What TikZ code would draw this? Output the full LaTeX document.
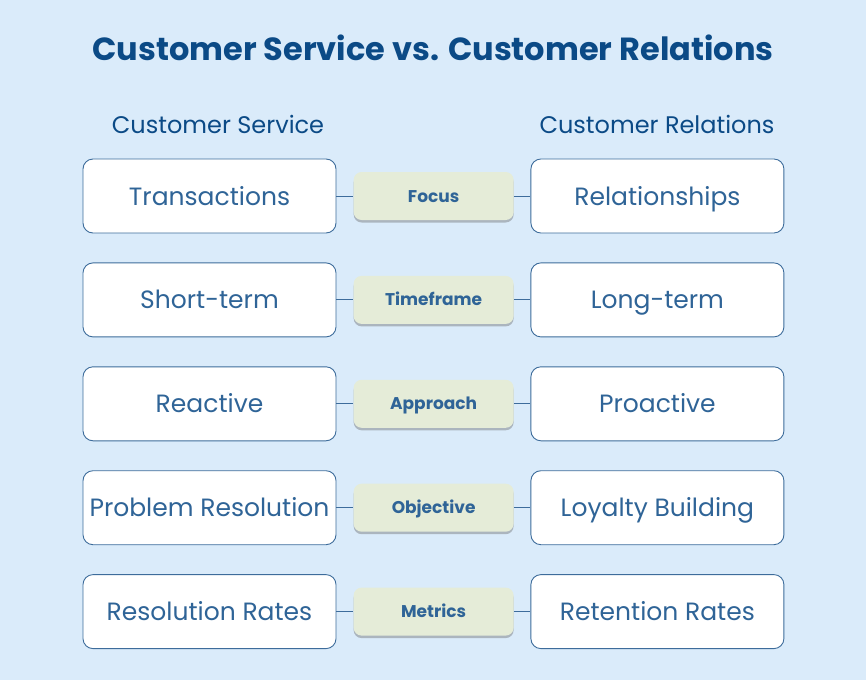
\documentclass[tikz,border=0pt]{standalone}
\usepackage{fontspec}
\setmainfont{Poppins}
\usetikzlibrary{positioning,shadows}
\definecolor{bgblue}{HTML}{DAEBFA}
\definecolor{titleblue}{HTML}{0B4A86}
\definecolor{textblue}{HTML}{2F6497}
\definecolor{lineblue}{HTML}{3D6C9B}
\definecolor{tagfill}{HTML}{E5ECD8}
\begin{document}
\begin{tikzpicture}[x=1pt, y=-1pt, node distance=29pt]
\tikzset{
   sidebox/.style={rectangle, rounded corners=10pt, draw=lineblue, fill=white, line width=0.9pt, minimum width=253pt, minimum height=74pt, inner sep=2pt, text height=19pt, text depth=1pt, text=textblue, font=\fontsize{25}{28}\selectfont},
   tagbox/.style={rectangle, rounded corners=8pt, fill=tagfill, minimum width=160pt, minimum height=48pt, text height=13pt, text depth=1pt, text=textblue, font=\fontsize{17}{20}\selectfont\bfseries, drop shadow={shadow xshift=0pt, shadow yshift=-2.5pt, opacity=0.4, fill=black!60}},
   link/.style={draw=lineblue, line width=0.9pt},
   header/.style={text=titleblue, font=\fontsize{24}{28}\selectfont},
}
\fill[bgblue] (0,0) rectangle (866,680);
\useasboundingbox (0,0) rectangle (866,680);

\node[text=titleblue, font=\fontsize{32}{38}\selectfont\bfseries] (title) at (433,48) {Customer Service vs. Customer Relations};
\node[header] (hservice) at (218,124) {Customer Service};
\node[header] (hrelations) at (657,124) {Customer Relations};

\node[sidebox] (focusL) at (209.5,196) {Transactions};
\node[sidebox, below=29pt of focusL] (timeL) {Short-term};
\node[sidebox, below=29pt of timeL] (approachL) {Reactive};
\node[sidebox, below=29pt of approachL] (objectiveL) {Problem Resolution};
\node[sidebox, below=29pt of objectiveL] (metricsL) {Resolution Rates};

\node[sidebox, right=194pt of focusL] (focusR) {Relationships};
\node[sidebox, right=194pt of timeL] (timeR) {Long-term};
\node[sidebox, right=194pt of approachL] (approachR) {Proactive};
\node[sidebox, right=194pt of objectiveL] (objectiveR) {Loyalty Building};
\node[sidebox, right=194pt of metricsL] (metricsR) {Retention Rates};

\node[tagbox, right=17pt of focusL] (focus) {Focus};
\node[tagbox, right=17pt of timeL] (time) {Timeframe};
\node[tagbox, right=17pt of approachL] (approach) {Approach};
\node[tagbox, right=17pt of objectiveL] (objective) {Objective};
\node[tagbox, right=17pt of metricsL] (metrics) {Metrics};

\draw[link] (focusL.east) -- (focus.west) (focus.east) -- (focusR.west);
\draw[link] (timeL.east) -- (time.west) (time.east) -- (timeR.west);
\draw[link] (approachL.east) -- (approach.west) (approach.east) -- (approachR.west);
\draw[link] (objectiveL.east) -- (objective.west) (objective.east) -- (objectiveR.west);
\draw[link] (metricsL.east) -- (metrics.west) (metrics.east) -- (metricsR.west);

\end{tikzpicture}
\end{document}
